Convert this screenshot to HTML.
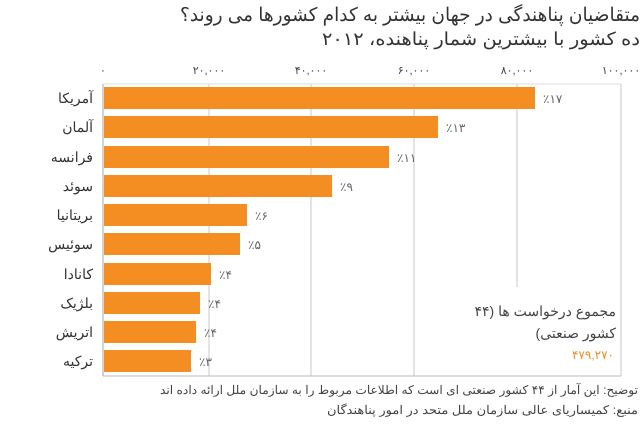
<!DOCTYPE html>
<html><head><meta charset="utf-8"><style>
html,body{margin:0;padding:0;background:#fff;}
svg{display:block;font-family:"Liberation Sans","Noto Sans CJK SC",sans-serif;}
</style></head><body>
<svg width="640" height="424" viewBox="0 0 640 424" xmlns="http://www.w3.org/2000/svg">
<g direction="rtl" text-anchor="start">
<text x="640" y="21" font-size="19" fill="#333" textLength="460" lengthAdjust="spacingAndGlyphs">متقاضیان پناهندگی در جهان بیشتر به کدام کشورها می روند؟</text>
<text x="640" y="45" font-size="18" fill="#333" textLength="318" lengthAdjust="spacingAndGlyphs">ده کشور با بیشترین شمار پناهنده، ۲۰۱۲</text>
</g>
<g font-size="11" fill="#444" text-anchor="middle">
<text x="103" y="74">۰</text>
<text x="209" y="74">۲۰,۰۰۰</text>
<text x="311" y="74">۴۰,۰۰۰</text>
<text x="414" y="74">۶۰,۰۰۰</text>
<text x="517" y="74">۸۰,۰۰۰</text>
<text x="621" y="74">۱۰۰,۰۰۰</text>
</g>
<g stroke="#c8c8c8" stroke-width="1">
<line x1="209" y1="84" x2="209" y2="376"/>
<line x1="311" y1="84" x2="311" y2="376"/>
<line x1="414" y1="84" x2="414" y2="376"/>
<line x1="517" y1="84" x2="517" y2="287"/>
<line x1="621" y1="84" x2="621" y2="376"/>
<line x1="103" y1="84" x2="621" y2="84" stroke="#ddd"/>
<line x1="103" y1="376" x2="621" y2="376" stroke="#bbb"/>
<line x1="103" y1="84" x2="103" y2="376" stroke="#aaa"/>
</g>
<g fill="#f48d22">
<rect x="104" y="87" width="431" height="22"/>
<rect x="104" y="116" width="334" height="22"/>
<rect x="104" y="146" width="285" height="22"/>
<rect x="104" y="175" width="228" height="22"/>
<rect x="104" y="204" width="143" height="22"/>
<rect x="104" y="233" width="136" height="22"/>
<rect x="104" y="263" width="107" height="22"/>
<rect x="104" y="292" width="96" height="22"/>
<rect x="104" y="321" width="92" height="22"/>
<rect x="104" y="350" width="87" height="22"/>
</g>
<g font-size="14" fill="#333" text-anchor="end">
<text x="93" y="103">آمریکا</text>
<text x="93" y="132">آلمان</text>
<text x="93" y="162">فرانسه</text>
<text x="93" y="191">سوئد</text>
<text x="93" y="220">بریتانیا</text>
<text x="93" y="249">سوئیس</text>
<text x="93" y="279">کانادا</text>
<text x="93" y="308">بلژیک</text>
<text x="93" y="337">اتریش</text>
<text x="93" y="366">ترکیه</text>
</g>
<g font-size="12" fill="#666" text-anchor="start">
<text x="543" y="103">٪۱۷</text>
<text x="446" y="132">٪۱۳</text>
<text x="397" y="162">٪۱۱</text>
<text x="340" y="191">٪۹</text>
<text x="255" y="220">٪۶</text>
<text x="248" y="249">٪۵</text>
<text x="219" y="279">٪۴</text>
<text x="208" y="308">٪۴</text>
<text x="204" y="337">٪۴</text>
<text x="199" y="366">٪۳</text>
</g>
<g direction="rtl" text-anchor="start" font-size="14" fill="#444">
<text x="616" y="316">مجموع درخواست ها (۴۴</text>
<text x="616" y="338">کشور صنعتی)</text>
<text x="614" y="359" fill="#f48d22" font-size="12">۴۷۹,۲۷۰</text>
</g>
<g direction="rtl" text-anchor="start" font-size="12" fill="#444">
<text x="638" y="394" textLength="478" lengthAdjust="spacingAndGlyphs">توضیح: این آمار از ۴۴ کشور صنعتی ای است که اطلاعات مربوط را به سازمان ملل ارائه داده اند</text>
<text x="638" y="414" textLength="311" lengthAdjust="spacingAndGlyphs">منبع: کمیساریای عالی سازمان ملل متحد در امور پناهندگان</text>
</g>
</svg>
</body></html>
